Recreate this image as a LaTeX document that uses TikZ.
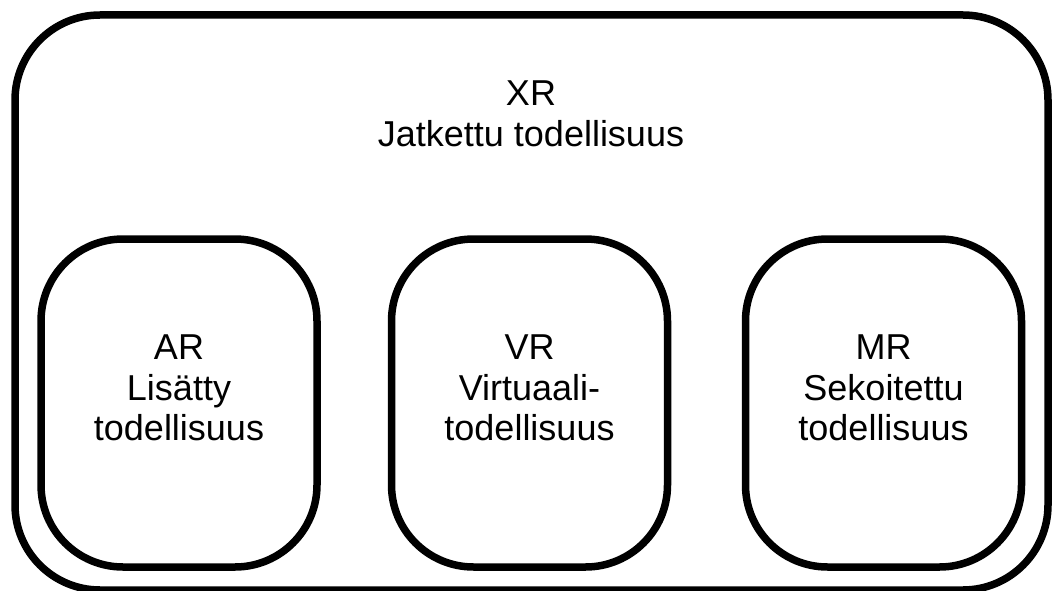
\documentclass[tikz,border=0pt]{standalone}
\usepackage{fontspec}
\setmainfont{Liberation Sans}
\begin{document}
\begin{tikzpicture}[x=1pt,y=-1pt,
  frame/.style={draw=black,line width=7.5pt,rectangle,inner sep=0pt},
  label/.style={align=center,inner sep=0pt,anchor=north,
    font=\fontsize{36}{40.5}\selectfont}]
  \useasboundingbox (0,0) rectangle (1052,591);
  % outer XR frame
  \draw[line width=7.5pt,rounded corners=85pt] (15,15) rectangle (1048,590);
  \coordinate (xr) at (531,81);
  \node[label] (xrtext) at (xr) {XR\\Jatkettu todellisuus};
  % inner frames
  \node[frame,rounded corners=82pt,minimum width=276pt,minimum height=328pt] (ar) at (179,403) {};
  \node[frame,rounded corners=82pt,minimum width=276pt,minimum height=328pt] (vr) at (529.5,403) {};
  \node[frame,rounded corners=82pt,minimum width=276pt,minimum height=328pt] (mr) at (883.5,403) {};
  % labels sit a little above each frame's centre
  \node[label] (artext) at ([yshift=68pt]ar.center) {AR\\Lisätty\\todellisuus};
  \node[label] (vrtext) at ([yshift=68pt]vr.center) {VR\\Virtuaali-\\todellisuus};
  \node[label] (mrtext) at ([yshift=68pt]mr.center) {MR\\Sekoitettu\\todellisuus};
\end{tikzpicture}
\end{document}
